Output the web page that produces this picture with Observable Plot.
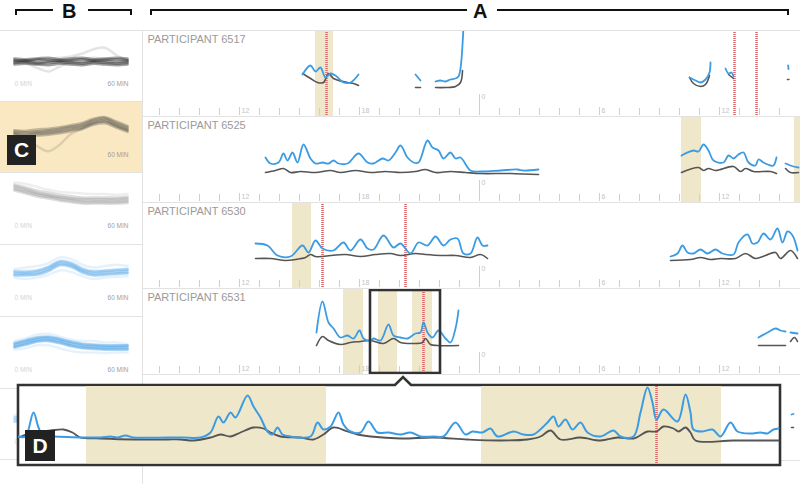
<!DOCTYPE html>
<html><head><meta charset="utf-8">
<script src="https://cdn.jsdelivr.net/npm/d3@7"></script>
<script src="https://cdn.jsdelivr.net/npm/@observablehq/plot@0.6"></script>
<style>
body{margin:0;background:#fff;font-family:"Liberation Sans",Arial,sans-serif;}
#root{position:relative;width:800px;height:484px;overflow:hidden;background:#fff;}
.abs{position:absolute;}
.hl{position:absolute;height:0;border-top:1px solid #e2e2e2;}
.vl{position:absolute;width:0;border-left:1px solid #e2e2e2;}
.tag{position:absolute;background:#222;color:#fff;font:bold 21px "Liberation Sans",Arial,sans-serif;display:flex;align-items:center;justify-content:center;}
.brk{position:absolute;border-top:2px solid #111;height:4px;}
.big{position:absolute;font:bold 20px "Liberation Sans",Arial,sans-serif;color:#111;}
</style></head><body><div id="root"></div>
<script>
// ---------- DATA ----------
// participant rows: x = clock hours (24 = midnight), y = signal units
const participantLabels = ["PARTICIPANT 6517","PARTICIPANT 6525","PARTICIPANT 6530","PARTICIPANT 6531",""];
const minorTicks = [8,9,10,11,13,14,15,16,17,19,20,21,22,23,25,26,27,28,29,31,32,33,34,35,37,38,39];
const majorTicks = [12,18,24,30,36];
const majorTickLabels = ["12","18","0","6","12"];

const p6517Blue = [
 [[15.15,84],[15.55,102],[15.8,90],[16.05,98],[16.3,78],[16.55,86],[16.8,82],[17.2,68],[17.55,68],[17.95,84]],
 [[20.8,84],[21.05,72]],
 [[21.8,70],[22.05,72],[22.3,70],[22.55,74],[22.8,76],[22.95,80],[23.05,96],[23.2,180]],
 [[34.5,78],[34.8,72],[35.05,68],[35.3,74],[35.5,88],[35.55,108]],
 [[36.3,96],[36.45,86],[36.6,88],[36.7,80]],
 [[39.43,102],[39.45,95]]
];
const p6517Gray = [
 [[15.15,86],[15.55,76],[15.9,68],[16.2,68],[16.45,86],[16.7,76],[17.4,68],[17.7,66],[17.95,62]],
 [[20.8,58],[21.05,58]],
 [[21.8,58],[22.3,58],[22.8,60],[23.05,68],[23.15,92]],
 [[34.5,78],[34.7,66],[35.05,60],[35.3,64],[35.5,82]],
 [[36.45,84],[36.7,76]],
 [[39.4,74],[39.47,74]]
];
const p6517Bands = [[15.8,16.7]];
const p6517Events = [16.35,36.75,37.85];

const p6525Blue = [
 [[13.3,90],[13.55,78],[13.95,80],[14.2,98],[14.4,84],[14.65,100],[14.9,80],[15.2,116],[15.55,88],[15.8,78],[16.15,80],[16.45,78],[16.7,84],[16.95,78],[17.4,78],[17.95,98],[18.4,80],[18.7,78],[19.15,88],[19.45,84],[19.8,100],[20.05,114],[20.4,90],[20.7,80],[20.95,80],[21.4,124],[21.65,110],[21.95,104],[22.2,88],[22.55,100],[22.8,88],[23.05,90],[23.55,64],[24.05,62],[25.05,64],[25.9,66],[26.2,64],[26.95,66]],
 [[34.1,94],[34.7,104],[34.95,102],[35.2,116],[35.45,104],[35.7,84],[36.2,80],[36.45,94],[36.7,88],[36.95,96],[37.2,100],[37.45,80],[37.8,74],[37.95,86],[38.2,80],[38.55,74],[38.7,74],[38.85,90]],
 [[39.3,78],[39.7,72],[39.95,70]]
];
const p6525Gray = [
 [[13.3,60],[13.8,64],[14.2,68],[14.55,60],[15.05,62],[15.8,60],[16.55,64],[17.05,60],[17.8,64],[18.55,60],[19.3,62],[20.05,60],[20.8,62],[21.3,66],[21.8,60],[22.55,62],[23.3,60],[24.05,58],[25.55,58],[26.95,56]],
 [[34.1,60],[34.95,70],[35.2,64],[35.45,68],[35.8,64],[36.7,72],[37.05,62],[37.3,68],[37.7,62],[38.55,62],[38.85,58]],
 [[39.3,68],[39.55,60],[39.95,60]]
];
const p6525Bands = [[34.1,35.1],[39.75,40.1]];
const p6525Events = [];

const p6530Blue = [
 [[12.8,90],[13.4,86],[13.9,66],[14.55,64],[15.15,86],[15.45,72],[15.8,96],[16.15,80],[16.7,76],[17.2,92],[17.55,76],[18.05,98],[18.4,80],[18.7,78],[19.2,106],[19.7,82],[20.05,90],[20.55,70],[20.95,92],[21.4,86],[21.8,104],[22.2,86],[22.55,98],[22.9,100],[23.2,70],[23.55,70],[23.9,102],[24.15,86],[24.4,86]],
 [[33.55,64],[33.9,70],[34.15,86],[34.4,72],[34.7,70],[35.05,78],[35.4,70],[35.8,78],[36.15,70],[36.7,68],[36.95,92],[37.4,108],[37.65,90],[37.9,92],[38.2,110],[38.55,98],[38.9,120],[39.15,92],[39.4,114],[39.65,106],[39.9,76]]
];
const p6530Gray = [
 [[12.8,60],[13.55,60],[14.3,56],[14.8,58],[15.3,62],[15.55,68],[15.8,64],[16.15,64],[16.55,66],[17.3,68],[18.05,64],[18.8,68],[19.55,70],[20.05,66],[20.8,70],[21.3,68],[22.05,66],[22.8,66],[23.55,62],[24.05,68],[24.4,60]],
 [[33.55,56],[34.55,58],[35.05,62],[35.55,58],[36.05,60],[36.8,60],[37.3,70],[37.8,60],[38.3,66],[38.8,72],[39.05,60],[39.55,76],[39.9,60]]
];
const p6530Bands = [[14.65,15.6]];
const p6530Events = [16.15,20.3];

const p6531Blue = [
 [[15.85,84],[16.15,146],[16.45,104],[16.7,92],[17.05,74],[17.4,78],[17.7,72],[18.0,88],[18.2,72],[18.55,68],[18.7,72],[19.05,68],[19.45,100],[19.7,78],[20.05,74],[20.4,72],[20.8,82],[21.05,84],[21.2,104],[21.4,84],[21.65,74],[21.95,88],[22.3,72],[22.55,64],[22.8,92],[22.95,128]],
 [[37.95,74],[38.4,84],[38.8,92],[39.05,88],[39.3,86]],
 [[39.55,84],[39.9,82]]
];
const p6531Gray = [
 [[15.85,58],[16.15,76],[16.45,68],[17.05,60],[17.55,64],[18.05,66],[18.55,68],[19.2,62],[19.7,72],[20.05,64],[20.7,62],[21.15,64],[21.3,72],[21.55,60],[21.9,58],[22.95,58]],
 [[37.95,58],[39.3,58]],
 [[39.55,66],[39.75,74],[39.9,66]]
];
const p6531Bands = [[17.2,18.2],[18.95,19.9],[20.65,21.65]];
const p6531Events = [21.2];
const p6531Zoom = [[18.55,22.05]];

const pHiddenBlue = [[[39.6,92],[39.7,93]]];
const pHiddenGray = [[[39.6,66],[39.7,66]]];

// detail view D: x = minutes within the zoom window, y = signal units
const dBlue = [[0,54],[1.75,54],[3.75,102],[5,72],[6.25,54],[8.75,54],[16.25,52],[20.5,52],[23,54],[24.75,52],[26.75,56],[28.75,52],[37.25,52],[41.25,52],[45.5,52],[48,62],[50,94],[51.25,82],[53,102],[54.25,92],[57.25,136],[58.75,114],[60.5,92],[62.25,64],[63.5,58],[64.75,72],[66,58],[68,54],[73,54],[74.75,82],[76.25,68],[78,74],[80,102],[81.25,78],[83,64],[85.5,62],[87.5,84],[89.75,62],[92.5,62],[95.5,58],[98,62],[100.5,54],[103.75,54],[106.25,54],[109.25,82],[111.75,58],[113.5,64],[116,62],[118,70],[119.75,54],[123.75,64],[126.25,58],[128.75,58],[132.25,82],[133.75,94],[135,74],[136.75,88],[138.5,68],[140.5,82],[142.25,62],[145.5,54],[148.75,66],[150.5,54],[153.75,54],[155.5,102],[157.25,152],[158.5,122],[159.5,88],[161.25,108],[164.75,84],[166.75,138],[168,102],[168.75,68],[171,64],[173.5,68],[175.5,54],[178,82],[179.75,64],[183,60],[185.5,62],[187.25,60],[188.75,68],[190,70]];
const dGray = [[0,52],[3.75,62],[8,66],[11.25,68],[13.5,62],[15.5,52],[20.5,50],[28.75,48],[37.25,48],[40.5,48],[43.75,46],[48,52],[50.5,58],[53,54],[55.5,62],[58.75,72],[61.25,70],[63,62],[65.5,54],[70.5,52],[73.75,48],[76.25,58],[78.75,72],[82.25,64],[84.75,58],[88,54],[95.5,50],[103.75,52],[112.25,48],[120.5,46],[127.25,48],[130.5,54],[133,66],[135.5,48],[140.5,52],[145.5,46],[149.75,52],[153.75,50],[157.25,64],[159.5,64],[161.25,74],[163.75,70],[165,64],[166.75,72],[168,62],[169.25,46],[178.75,46],[190,46]];
const dBands = [[17,77],[115.75,175.75]];
const dEvents = [159.5];

// overview panels B: x = minutes 0..60; core traces and faint outlier traces
const bMinutes = [0,6,12,18,24,30,36,42,48,54,60];
const bCore1 = [[57,58,56,57,58,57,56,58,57,56,57],[59,58,60,59,58,59,60,58,59,60,59],[55,56,54,55,56,55,54,56,55,54,55],[61,60,61,62,60,61,62,60,61,62,61],[53,54,53,52,54,53,52,54,53,52,53]];
const bOut1 = [[57,55,48,43,50,57,60,62,60,58,57],[57,58,58,60,62,64,68,74,76,66,58]];
const bCore2 = [[56,55,57,58,60,63,66,72,74,68,62],[60,59,61,62,64,67,70,76,78,72,66],[52,51,53,54,56,59,62,68,70,64,58],[58,57,58,60,62,65,68,74,77,70,64],[54,53,55,56,58,61,64,70,72,66,60]];
const bOut2 = [[56,48,38,31,40,55,62,70,74,66,60]];
const bCore3 = [[79,75,71,68,65,63,61,61,61,61,62],[83,79,75,72,69,67,65,65,65,65,66],[75,71,67,64,61,59,57,57,57,57,58],[81,77,72,69,66,64,63,63,63,63,64],[77,73,69,66,63,61,59,59,59,59,60]];
const bOut3 = [[86,84,80,76,73,72,71,70,70,69,70]];
const bCore4 = [[60,60,61,66,74,72,64,60,61,62,63],[63,63,64,69,77,75,67,63,64,65,66],[57,57,58,63,71,69,61,57,58,59,60],[62,61,63,68,76,73,65,62,63,64,65],[58,58,59,64,72,70,62,58,59,60,61]];
const bOut4 = [[66,68,70,74,82,80,72,68,70,72,70],[54,52,54,58,64,62,56,52,54,55,56]];
const bCore5 = [[60,64,68,69,66,62,59,58,57,57,57],[63,67,71,72,69,65,62,61,60,60,60],[57,61,65,66,63,59,56,55,54,54,54],[62,66,70,71,68,64,61,60,59,59,59],[58,62,66,67,64,60,57,56,55,55,55]];
const bOut5 = [[66,70,75,76,72,68,66,66,64,64,62],[54,56,60,60,56,52,50,50,49,50,50]];
const bCore6 = [[57,58,60,62,60,58,57,57,58,57,57],[60,61,63,65,63,61,60,60,61,60,60],[54,55,57,59,57,55,54,54,55,54,54]];
const bOut6 = [[63,64,66,68,66,64,63,63,64,63,63]];
const bAxisLabels = ["0 MIN","60 MIN"];

// ---------- STYLE ----------
const BLUE = "#3b9be3", GRAY = "#555", BAND = "#efe7c9", RED = "#e4676c";
const FONT = "Liberation Sans, Arial, sans-serif";
const ns = "http://www.w3.org/2000/svg";
const root = document.getElementById("root");
function place(el, left, top){ el.style.position="absolute"; el.style.left=left+"px"; el.style.top=top+"px"; root.appendChild(el); return el; }
function div(cls, css){ const d=document.createElement("div"); d.className=cls; Object.assign(d.style, css); root.appendChild(d); return d; }
function flat(segs){ return segs.flatMap((s,i)=>s.map(([h,v])=>({h,v,seg:i}))); }
function traces(list){ const out=[]; list.forEach((vals,k)=>vals.forEach((v,j)=>out.push({m:bMinutes[j],v:v,k:k}))); return out; }

// ---------- HEADER ----------
div("brk",{left:"15px",top:"9px",width:"36px",borderLeft:"2px solid #111"});
div("brk",{left:"88px",top:"9px",width:"42px",borderRight:"2px solid #111"});
div("big",{left:"62px",top:"0px"}).textContent="B";
div("brk",{left:"150px",top:"9px",width:"315px",borderLeft:"2px solid #111"});
div("brk",{left:"497px",top:"9px",width:"290px",borderRight:"2px solid #111"});
div("big",{left:"473px",top:"0px"}).textContent="A";

// ---------- PANEL B ----------
const bTops = [30,101,172,244,316,388];
const bCores = [bCore1,bCore2,bCore3,bCore4,bCore5,bCore6];
const bOuts = [bOut1,bOut2,bOut3,bOut4,bOut5,bOut6];
const bColors = ["#222","#333","#555","#2f93e0","#2f93e0","#2f93e0"];
const bCoreOp = [0.42,0.28,0.2,0.26,0.33,0.3];
const bOutOp = [0.12,0.14,0.1,0.12,0.12,0.12];
div("abs",{left:"0px",top:"101px",width:"142px",height:"71px",background:"#f9e8c1"});
bCores.forEach((core,i)=>{
  const common = {width:142, height:72, margin:0,
    x:{domain:[0,60], range:[14,127], axis:null},
    y:{domain:[0,100], range:[72,0], axis:null},
    style:{background:"transparent", fontFamily:FONT}};
  const lineSvg = Plot.plot({...common, marks:[
    Plot.line(traces(bOuts[i]),{x:"m",y:"v",z:"k",stroke:bColors[i],strokeOpacity:bOutOp[i],strokeWidth:2.5,curve:"catmull-rom"}),
    Plot.line(traces(core),{x:"m",y:"v",z:"k",stroke:bColors[i],strokeOpacity:bCoreOp[i],strokeWidth:2.8,curve:"catmull-rom"})
  ]});
  lineSvg.style.filter = "blur(0.7px)";
  place(lineSvg,0,bTops[i]);
  const labelMarks = [Plot.text([60],{x:60,y:26,text:()=>bAxisLabels[1],textAnchor:"end",fontSize:6.5,fill:"#a0a0a0",dx:1})];
  if (i!==1) labelMarks.push(Plot.text([0],{x:0,y:26,text:()=>bAxisLabels[0],textAnchor:"start",fontSize:6.5,fill:"#d4d4d4"}));
  place(Plot.plot({...common, marks:labelMarks}),0,bTops[i]);
});
[101,172,244,316,388,459].forEach(y=>div("hl",{left:"0px",top:y+"px",width:"142px"}));

// ---------- PANEL A ----------
const rowTops = [30,116,202,288,374];
const rows = [
  {blue:p6517Blue,gray:p6517Gray,bands:p6517Bands,events:p6517Events,zoom:[]},
  {blue:p6525Blue,gray:p6525Gray,bands:p6525Bands,events:p6525Events,zoom:[]},
  {blue:p6530Blue,gray:p6530Gray,bands:p6530Bands,events:p6530Events,zoom:[]},
  {blue:p6531Blue,gray:p6531Gray,bands:p6531Bands,events:p6531Events,zoom:p6531Zoom},
  {blue:pHiddenBlue,gray:pHiddenGray,bands:[],events:[],zoom:[]}
];
rows.forEach((r,i)=>{
  const svg = Plot.plot({
    width:658, height:86, margin:0,
    x:{domain:[7.15,40.05], range:[0,658], axis:null},
    y:{domain:[0,172], range:[86,0], axis:null},
    style:{background:"transparent", fontFamily:FONT},
    marks:[
      Plot.rect(r.bands,{x1:d=>d[0],x2:d=>d[1],y1:0,y2:172,fill:BAND}),
      Plot.ruleX(r.events,{x:d=>d,stroke:RED,strokeWidth:2.6,strokeDasharray:"1,1"}),
      Plot.ruleX(minorTicks,{x:d=>d,y1:2,y2:16,stroke:"#cfcfcf"}),
      Plot.ruleX(majorTicks,{x:d=>d,y1:2,y2:d=>d===24?44:18,stroke:"#cfcfcf"}),
      Plot.text(majorTicks,{x:d=>d,y:d=>d===24?39:12,text:(d,j)=>majorTickLabels[j],dx:2,textAnchor:"start",fontSize:7,fill:"#c2c2c2"}),
      Plot.line(flat(r.gray),{x:"h",y:"v",z:"seg",stroke:GRAY,strokeWidth:1.6,curve:"catmull-rom",clip:true}),
      Plot.line(flat(r.blue),{x:"h",y:"v",z:"seg",stroke:BLUE,strokeWidth:1.8,curve:"catmull-rom",clip:true}),
      Plot.rect(r.zoom,{x1:d=>d[0],x2:d=>d[1],y1:2,y2:168,fill:"none",stroke:"#333",strokeWidth:2.6}),
      Plot.text([participantLabels[i]],{frameAnchor:"top-left",dx:5,dy:5,fontSize:11,fill:"#9a9a9a",text:d=>d})
    ]
  });
  place(svg,142,rowTops[i]);
});
[116,202,288,374,460].forEach(y=>div("hl",{left:"142px",top:y+"px",width:"658px"}));
div("hl",{left:"0px",top:"30px",width:"800px"});
div("vl",{left:"142px",top:"30px",height:"454px"});

// ---------- CALLOUT D ----------
const cs=document.createElementNS(ns,"svg");
cs.setAttribute("width","800"); cs.setAttribute("height","484");
cs.style.position="absolute"; cs.style.left="0"; cs.style.top="0";
const path=document.createElementNS(ns,"path");
path.setAttribute("d","M18,385 H395 L403,377 L411,385 H780 V465 H18 Z");
path.setAttribute("fill","#fff"); path.setAttribute("stroke","#333"); path.setAttribute("stroke-width","2.6");
cs.appendChild(path); root.appendChild(cs);

const dsvg = Plot.plot({
  width:762, height:78, margin:0,
  x:{domain:[0,190.5], range:[0,762], axis:null},
  y:{domain:[0,154], range:[77,0], axis:null},
  style:{background:"transparent", fontFamily:FONT},
  marks:[
    Plot.rect(dBands,{x1:d=>d[0],x2:d=>d[1],y1:0,y2:154,fill:BAND}),
    Plot.ruleX(dEvents,{x:d=>d,stroke:RED,strokeWidth:2.6,strokeDasharray:"1,1"}),
    Plot.line(dGray,{x:d=>d[0],y:d=>d[1],stroke:GRAY,strokeWidth:1.8,curve:"catmull-rom"}),
    Plot.line(dBlue,{x:d=>d[0],y:d=>d[1],stroke:BLUE,strokeWidth:2,curve:"catmull-rom",clip:true})
  ]
});
place(dsvg,18,386);

// ---------- TAGS ----------
div("tag",{left:"7px",top:"135px",width:"29px",height:"30px"}).textContent="C";
div("tag",{left:"25px",top:"430px",width:"30px",height:"31px"}).textContent="D";
</script></body></html>
